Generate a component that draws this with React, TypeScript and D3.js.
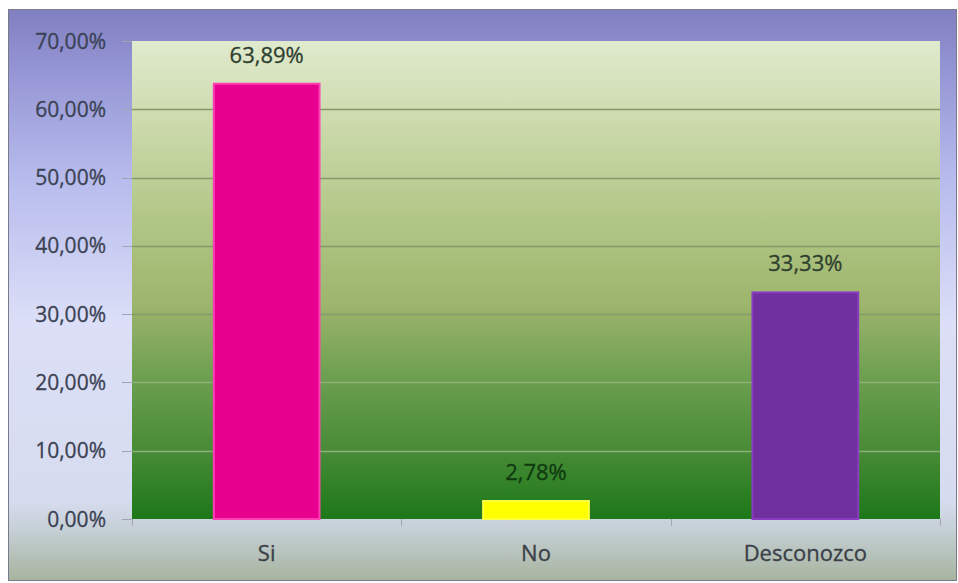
import React, { useEffect, useRef } from "react";
import * as d3 from "d3";

const categories = ["Si", "No", "Desconozco"];
const values = [63.89, 2.78, 33.33];
const valueLabels = ["63,89%", "2,78%", "33,33%"];
const barColors = ["#e8008f", "#ffff00", "#7030a0"];
const barBorders = ["#ff40b4", "#ffff40", "#8a3cc0"];
const yTicks = [0, 10, 20, 30, 40, 50, 60, 70];

const W = 958;
const H = 583;
const plot = { left: 132, right: 940, top: 41, bottom: 519 };
const FONT = "'Open Sans', 'Noto Sans', sans-serif";

export default function App() {
  const ref = useRef<SVGSVGElement>(null);

  useEffect(() => {
    const svg = d3.select(ref.current);
    svg.selectAll("*").remove();

    const defs = svg.append("defs");
    const outer = defs.append("linearGradient").attr("id", "outerG").attr("x1", 0).attr("y1", 0).attr("x2", 0).attr("y2", 1);
    [
      [0, "#8080c0"],
      [0.07, "#8e8ecf"],
      [0.3, "#b8bced"],
      [0.55, "#dcdff7"],
      [0.86, "#d6dcef"],
      [0.91, "#c6d0d6"],
      [1, "#a6b49e"],
    ].forEach(([o, c]) => outer.append("stop").attr("offset", o as number).attr("stop-color", c as string));

    const inner = defs.append("linearGradient").attr("id", "innerG").attr("x1", 0).attr("y1", 0).attr("x2", 0).attr("y2", 1);
    [
      [0, "#e0eace"],
      [0.15, "#cfdcb0"],
      [0.35, "#b4c98a"],
      [0.55, "#9db56c"],
      [0.7, "#6da050"],
      [0.85, "#4a8c38"],
      [1, "#1c7818"],
    ].forEach(([o, c]) => inner.append("stop").attr("offset", o as number).attr("stop-color", c as string));

    // outer chart area
    svg.append("rect").attr("x", 8.5).attr("y", 9.5).attr("width", 948).attr("height", 571)
      .attr("fill", "url(#outerG)").attr("stroke", "#7a7a8a").attr("stroke-width", 1);

    const x = d3.scaleBand().domain(categories).range([plot.left, plot.right]).paddingInner(0.6).paddingOuter(0.3);
    const y = d3.scaleLinear().domain([0, 70]).range([plot.bottom, plot.top]);

    // plot area
    svg.append("rect").attr("x", plot.left).attr("y", plot.top)
      .attr("width", plot.right - plot.left).attr("height", plot.bottom - plot.top)
      .attr("fill", "url(#innerG)");

    // gridlines
    svg.append("g").selectAll("line").data(yTicks.filter((t) => t > 0 && t < 70)).join("line")
      .attr("x1", plot.left).attr("x2", plot.right)
      .attr("y1", (d) => Math.round(y(d)) + 0.5).attr("y2", (d) => Math.round(y(d)) + 0.5)
      .attr("stroke", (d) => (d >= 30 ? "#85996a" : "#8bb07a"))
      .attr("stroke-width", 1.5);

    // y ticks and labels
    const yg = svg.append("g");
    yg.selectAll("line").data(yTicks).join("line")
      .attr("x1", plot.left - 10).attr("x2", plot.left)
      .attr("y1", (d) => Math.round(y(d)) + 0.5).attr("y2", (d) => Math.round(y(d)) + 0.5)
      .attr("stroke", "#a0a4b4").attr("stroke-width", 1);
    yg.selectAll("text").data(yTicks).join("text")
      .attr("x", 106).attr("y", (d) => y(d) + 7.5)
      .attr("text-anchor", "end")
      .attr("font-family", FONT).attr("font-size", 21)
      .attr("fill", "#3b4254").attr("stroke", "#3b4254").attr("stroke-width", 0.3)
      .text((d) => d3.format(".2f")(d).replace(".", ",") + "%");

    // x ticks (category boundaries)
    const bounds = [plot.left, ...categories.slice(1).map((c) => (x(c) as number) - x.step() * x.paddingInner() / 2), plot.right];
    svg.append("g").selectAll("line").data(bounds).join("line")
      .attr("x1", (d) => Math.round(d) + 0.5).attr("x2", (d) => Math.round(d) + 0.5)
      .attr("y1", plot.bottom).attr("y2", plot.bottom + 7)
      .attr("stroke", "#a0a8b4").attr("stroke-width", 1);

    // bars
    svg.append("g").selectAll("rect").data(values).join("rect")
      .attr("x", (_, i) => (x(categories[i]) as number) + 1)
      .attr("y", (d) => y(d) + 1)
      .attr("width", x.bandwidth() - 2)
      .attr("height", (d) => plot.bottom - y(d) - 1)
      .attr("fill", (_, i) => barColors[i])
      .attr("stroke", (_, i) => barBorders[i])
      .attr("stroke-width", 2);

    // value labels
    svg.append("g").selectAll("text").data(values).join("text")
      .attr("x", (_, i) => (x(categories[i]) as number) + x.bandwidth() / 2)
      .attr("y", (d) => y(d) - 20)
      .attr("text-anchor", "middle")
      .attr("font-family", FONT).attr("font-size", 22)
      .attr("fill", (_, i) => (i === 1 ? "#0f3a10" : "#2e3e2e"))
      .attr("stroke", (_, i) => (i === 1 ? "#0f3a10" : "#2e3e2e")).attr("stroke-width", 0.3)
      .text((_, i) => valueLabels[i]);

    // category labels
    svg.append("g").selectAll("text").data(categories).join("text")
      .attr("x", (d) => (x(d) as number) + x.bandwidth() / 2)
      .attr("y", 561)
      .attr("text-anchor", "middle")
      .attr("font-family", FONT).attr("font-size", 22)
      .attr("fill", "#3a3f48").attr("stroke", "#3a3f48").attr("stroke-width", 0.3)
      .text((d) => d);
  }, []);

  return (
    <svg
      ref={ref}
      width={W}
      height={H}
      style={{ position: "absolute", left: 0, top: 0, background: "#ffffff" }}
    />
  );
}
